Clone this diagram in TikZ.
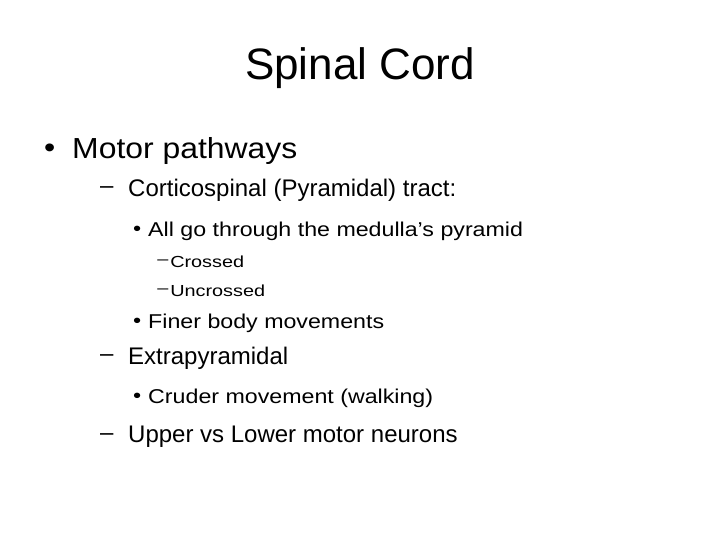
\documentclass[tikz,border=0pt]{standalone}
\usepackage{fontspec}
\setmainfont{Liberation Sans}
\begin{document}
\begin{tikzpicture}[x=1pt,y=-1pt,
	txt/.style={anchor=west,inner sep=0pt},
	lone/.style={txt,font=\fontsize{29}{32}\selectfont,xscale=1.1},
	ltwo/.style={txt,font=\fontsize{24}{27}\selectfont},
	lthree/.style={txt,font=\fontsize{20}{23}\selectfont,xscale=1.16},
	lfour/.style={txt,font=\fontsize{16}{19}\selectfont,xscale=1.24}]
\useasboundingbox (0,0) rectangle (720,540);
% title
\node (title) at (360,68) {\fontsize{44}{48}\selectfont Spinal Cord};
% level one
\node[lone] (b1) at (44,151) {\textbullet};
\node[lone] (motor) at (72,151) {Motor pathways};
% corticospinal
\node[ltwo] (d1) at (100,190) {--};
\node[ltwo] (cortico) at (128,190) {Corticospinal (Pyramidal) tract:};
\node[lthree] (b2) at (133,231) {\textbullet};
\node[lthree] (medulla) at (148,231) {All go through the medulla’s pyramid};
\node[lfour] (d2) at (157,262) {--};
\node[lfour] (crossed) at (170,262) {Crossed};
\node[lfour] (d3) at (157,291) {--};
\node[lfour] (uncrossed) at (170,291) {Uncrossed};
\node[lthree] (b3) at (133,323) {\textbullet};
\node[lthree] (finer) at (148,323) {Finer body movements};
% extrapyramidal
\node[ltwo] (d4) at (100,358) {--};
\node[ltwo] (extra) at (128,358) {Extrapyramidal};
\node[lthree] (b4) at (133,398) {\textbullet};
\node[lthree] (cruder) at (148,398) {Cruder movement (walking)};
% neurons
\node[ltwo] (d5) at (100,437) {--};
\node[ltwo] (upper) at (128,437) {Upper vs Lower motor neurons};
\end{tikzpicture}
\end{document}
